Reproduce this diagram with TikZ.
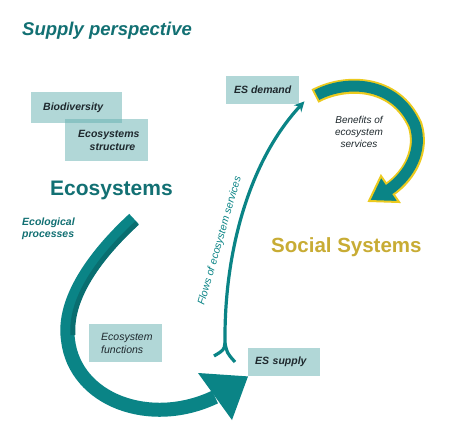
\documentclass[tikz,border=0pt]{standalone}
\usepackage{fontspec}
\setmainfont{Liberation Sans}
\usetikzlibrary{arrows.meta}
\definecolor{teal1}{RGB}{18,112,115}
\definecolor{arrowteal}{RGB}{10,132,134}
\definecolor{arrowdark}{RGB}{9,110,112}
\definecolor{boxfill}{RGB}{101,177,177}
\definecolor{boxtext}{RGB}{30,40,45}
\definecolor{gold1}{RGB}{200,172,52}
\definecolor{yel}{RGB}{236,202,30}
\begin{document}
\begin{tikzpicture}[x=1pt,y=-1pt,
  box/.style={rectangle, fill=boxfill, fill opacity=0.5, text opacity=1,
    inner ysep=0pt, text=boxtext, anchor=north west,
    font=\fontsize{10.5}{12.5}\selectfont\bfseries\itshape},
  bigarrow/.style={line width=14pt, arrowteal},
  flowline/.style={line width=3.2pt, arrowteal},
]
\fill[white] (0,0) rectangle (452,434);
\useasboundingbox (0,0) rectangle (452,434);

% titles and labels
\node[font=\fontsize{18.5}{22}\selectfont\bfseries\itshape, text=teal1, anchor=base west, inner sep=0pt] (title) at (22,35) {Supply perspective};
\node[font=\fontsize{21}{25}\selectfont\bfseries, text=teal1, anchor=base west, inner sep=0pt] (eco) at (50,195) {Ecosystems};
\node[font=\fontsize{20.5}{24}\selectfont\bfseries, text=gold1, anchor=base west, inner sep=0pt] (soc) at (271,252) {Social Systems};
\node[font=\fontsize{10.5}{12}\selectfont\bfseries\itshape, text=teal1, align=left, anchor=west, inner sep=0pt] (proc) at (22,229) {Ecological\\processes};
\node[font=\fontsize{10}{11.8}\selectfont\itshape, text=boxtext, align=center, inner sep=0pt] (ben) at (359,132) {Benefits of\\ecosystem\\services};
\node[font=\fontsize{10.5}{12}\selectfont\itshape, text=arrowteal, rotate=74, inner sep=0pt] (flowlbl) at (220,241) {Flows of ecosystem services};

% boxes
\node[box, minimum width=91pt, minimum height=31pt, text width=67pt, inner xsep=12pt, align=left] (bio) at (31,92) {Biodiversity};
\node[box, minimum width=83pt, minimum height=42pt, text width=57pt, inner xsep=13pt, align=right] (struct) at (65,119) {Ecosystems\\structure};
\node[box, minimum width=73pt, minimum height=28pt, inner xsep=0pt] (dem) at (226,76) {ES demand};
\node[box, minimum width=72pt, minimum height=28pt, text width=58pt, inner xsep=7pt, align=left] (sup) at (248,348) {ES supply};
\node[box, font=\fontsize{10.5}{12.5}\selectfont\itshape, minimum width=73pt, minimum height=38pt, text width=49pt, inner xsep=12pt, align=left] (fun) at (89,324) {Ecosystem\\functions};

% big ecological processes arrow
\coordinate (bt) at (134,219);
\coordinate (bm) at (68,340);
\coordinate (bb) at (215,397);
\coordinate (bh1) at (198,373);
\coordinate (bh2) at (232,420);
\draw[bigarrow] (bt) .. controls (95,255) and (62,300) .. (bm) .. controls (75,400) and (150,428) .. (bb);
\draw[line width=5pt, arrowdark] (137,223) .. controls (100,257) and (70,298) .. (73,335);
\fill[arrowteal] (bh1) -- (sup.south west) -- (bh2) -- cycle;

% benefits arrow
\coordinate (et) at (315,96);
\coordinate (em) at (415,125);
\coordinate (eb) at (390,189);
\coordinate (eh1) at (381,176);
\coordinate (eh2) at (399,202);
\coordinate (etip) at (369,201);
\draw[line width=15pt, yel] (et) .. controls (345,80) and (395,80) .. (em) .. controls (423,150) and (410,175) .. (eb);
\filldraw[fill=arrowteal, draw=yel, line width=2pt, line join=miter] (eh1) -- (etip) -- (eh2) -- cycle;
\draw[line width=11pt, arrowteal, shorten <=2pt, shorten >=-2pt] (et) .. controls (345,80) and (395,80) .. (em) .. controls (423,150) and (410,175) .. (eb);

% flows arrow
\coordinate (ft) at (225,343);
\coordinate (fl) at (214,356);
\coordinate (fr) at (235,362);
\draw[flowline, -{Stealth[length=10pt, width=10pt]}] (ft) .. controls (224,250) and (250,160) .. ([shift={(5,-3)}]dem.south east);
\draw[flowline] (ft) .. controls (224,350) .. (fl);
\draw[flowline] (ft) .. controls (227,353) .. (fr);
\end{tikzpicture}
\end{document}
